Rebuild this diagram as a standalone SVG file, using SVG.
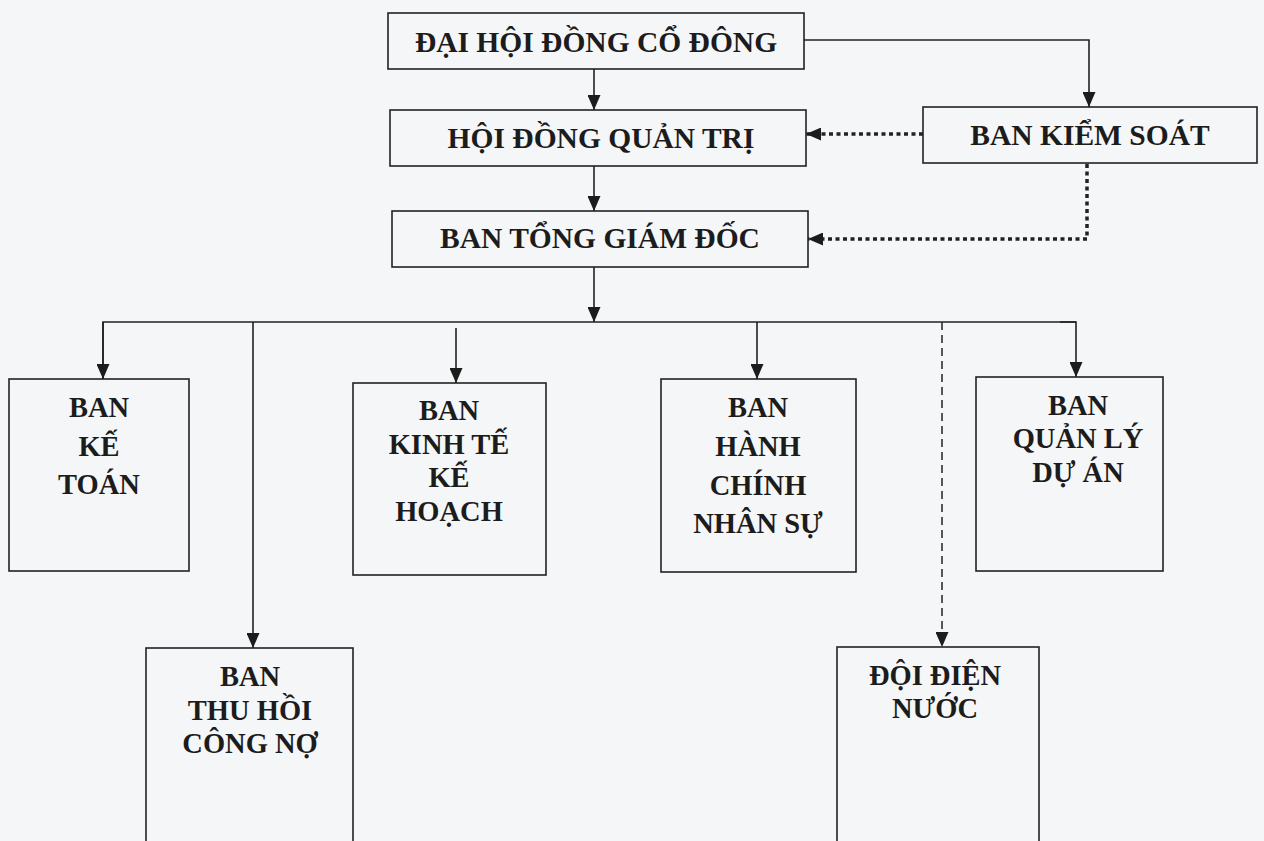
<svg xmlns="http://www.w3.org/2000/svg" width="1264" height="841" viewBox="0 0 1264 841">
<style>
.box{fill:none;stroke:#222;stroke-width:1.6}
.t{font-family:"Liberation Serif","Times New Roman",serif;font-weight:bold;fill:#1c1c1c;text-anchor:middle}
.top{font-size:29.5px}
.low{font-size:28.5px}
.ln{fill:none;stroke:#222;stroke-width:1.6}
.dot{fill:none;stroke:#222;stroke-width:3.5;stroke-dasharray:4 3.5}
.dash{fill:none;stroke:#222;stroke-width:1.5;stroke-dasharray:8 5}
</style>
<defs>
<marker id="ah" viewBox="0 0 15 13" refX="15" refY="6.5" markerWidth="15" markerHeight="13" markerUnits="userSpaceOnUse" orient="auto">
<path d="M0,0 L15,6.5 L0,13 z" fill="#1c1c1c"/>
</marker>
</defs>
<rect x="0" y="0" width="1264" height="841" fill="#f5f6f8"/>
<g id="connectors">
<line class="ln" x1="594" y1="69" x2="594" y2="110" marker-end="url(#ah)"/>
<line class="ln" x1="594" y1="166" x2="594" y2="211" marker-end="url(#ah)"/>
<line class="ln" x1="594" y1="267" x2="594" y2="322" marker-end="url(#ah)"/>
<polyline class="ln" points="804,40 1089,40 1089,107" marker-end="url(#ah)"/>
<line class="dot" x1="923" y1="134" x2="806" y2="134" marker-end="url(#ah)"/>
<polyline class="dot" points="1087,164 1087,239 808,239" marker-end="url(#ah)"/>
<polyline class="ln" points="103,379 103,322 1076,322"/>
<line class="ln" x1="103" y1="322" x2="103" y2="379" marker-end="url(#ah)"/>
<polyline class="ln" points="1060,322 1076,322 1076,377" marker-end="url(#ah)"/>
<line class="ln" x1="253" y1="322" x2="253" y2="648" marker-end="url(#ah)"/>
<line class="ln" x1="456" y1="328" x2="456" y2="383" marker-end="url(#ah)"/>
<line class="ln" x1="757" y1="322" x2="757" y2="379" marker-end="url(#ah)"/>
<line class="dash" x1="942" y1="322" x2="942" y2="647" marker-end="url(#ah)"/>
</g>
<g id="dhdcd">
<rect class="box" x="388" y="13" width="416" height="56"/>
<text class="t top" x="596" y="52">ĐẠI HỘI ĐỒNG CỔ ĐÔNG</text>
</g>
<g id="hdqt">
<rect class="box" x="390" y="110" width="416" height="56"/>
<text class="t top" x="601" y="148">HỘI ĐỒNG QUẢN TRỊ</text>
</g>
<g id="btgd">
<rect class="box" x="392" y="211" width="416" height="56"/>
<text class="t top" x="600" y="248">BAN TỔNG GIÁM ĐỐC</text>
</g>
<g id="bks">
<rect class="box" x="923" y="107" width="334" height="56"/>
<text class="t top" x="1090" y="145">BAN KIỂM SOÁT</text>
</g>
<g id="ketoan">
<rect class="box" x="9" y="379" width="180" height="192"/>
<text class="t low" x="99" y="417">BAN</text>
<text class="t low" x="99" y="456">KẾ</text>
<text class="t low" x="99" y="494">TOÁN</text>
</g>
<g id="kinhte">
<rect class="box" x="353" y="383" width="193" height="192"/>
<text class="t low" x="449" y="420">BAN</text>
<text class="t low" x="449" y="454">KINH TẾ</text>
<text class="t low" x="449" y="487">KẾ</text>
<text class="t low" x="449" y="521">HOẠCH</text>
</g>
<g id="hanhchinh">
<rect class="box" x="661" y="379" width="195" height="193"/>
<text class="t low" x="758" y="417">BAN</text>
<text class="t low" x="758" y="456">HÀNH</text>
<text class="t low" x="758" y="495">CHÍNH</text>
<text class="t low" x="758" y="533">NHÂN SỰ</text>
</g>
<g id="qlda">
<rect class="box" x="976" y="377" width="187" height="194"/>
<text class="t low" x="1078" y="415">BAN</text>
<text class="t low" x="1078" y="448">QUẢN LÝ</text>
<text class="t low" x="1078" y="482">DỰ ÁN</text>
</g>
<g id="thuhoi">
<rect class="box" x="146" y="648" width="207" height="200"/>
<text class="t low" x="250" y="686">BAN</text>
<text class="t low" x="250" y="720">THU HỒI</text>
<text class="t low" x="250" y="753">CÔNG NỢ</text>
</g>
<g id="doidien">
<rect class="box" x="837" y="647" width="202" height="200"/>
<text class="t low" x="935" y="685">ĐỘI ĐIỆN</text>
<text class="t low" x="935" y="718">NƯỚC</text>
</g>
</svg>
